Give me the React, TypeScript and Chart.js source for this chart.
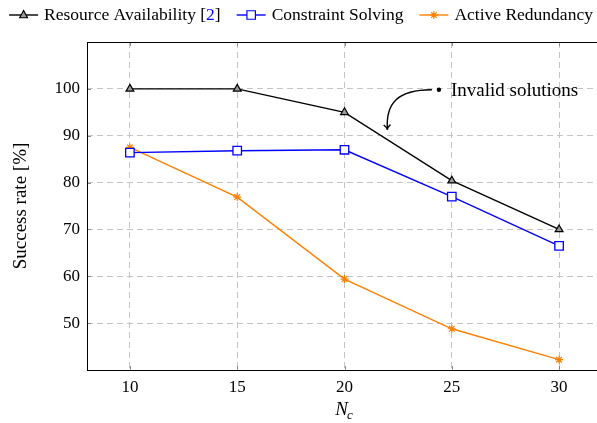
import React, { useEffect, useRef } from "react";
import { Chart, registerables } from "chart.js";

Chart.register(...registerables);

// ---- Data ----
const nc = [10, 15, 20, 25, 30];
const resourceAvailability = [100, 100, 95, 80.4, 70];
const constraintSolving = [86.4, 86.8, 87.0, 77.0, 66.5];
const activeRedundancy = [87.5, 76.9, 59.4, 48.8, 42.2];
const xTickValues = [10, 15, 20, 25, 30];
const yTickValues = [50, 60, 70, 80, 90, 100];
const seriesNames = ["Resource Availability", "Constraint Solving", "Active Redundancy"];
const citeRef = "2";
const annotationLabel = "Invalid solutions";
const annotationDot = [24.4, 99.8];
const annotationArrowTip = [22.0, 91.3];

const FONT = '"Liberation Serif", "DejaVu Serif", serif';
const BLACK = "#000000";
const BLUE = "#0000ff";
const ORANGE = "#ff8000";

const toXY = (ys: number[]) => nc.map((x, i) => ({ x, y: ys[i] }));

function drawMarker(ctx: CanvasRenderingContext2D, style: string, x: number, y: number, r: number, stroke: string, fill: string) {
  ctx.save();
  ctx.strokeStyle = stroke;
  ctx.fillStyle = fill;
  ctx.lineWidth = 1.2;
  ctx.beginPath();
  if (style === "triangle") {
    ctx.moveTo(x, y - r);
    ctx.lineTo(x + r * 0.866, y + r * 0.5 + 0.5);
    ctx.lineTo(x - r * 0.866, y + r * 0.5 + 0.5);
    ctx.closePath();
    ctx.fill();
    ctx.stroke();
  } else if (style === "rect") {
    const s = r * Math.SQRT1_2;
    ctx.rect(x - s, y - s, 2 * s, 2 * s);
    ctx.fill();
    ctx.stroke();
  } else {
    for (let k = 0; k < 4; k++) {
      const ang = (k * Math.PI) / 4;
      ctx.moveTo(x + r * Math.cos(ang), y + r * Math.sin(ang));
      ctx.lineTo(x - r * Math.cos(ang), y - r * Math.sin(ang));
    }
    ctx.stroke();
  }
  ctx.restore();
}

const decorPlugin = {
  id: "decor",
  afterDraw(chart: any) {
    const { ctx, chartArea: a, scales } = chart;
    const xs = scales.x;
    const ys = scales.y;
    ctx.save();

    // small inner tick marks
    ctx.strokeStyle = "#8a8a8a";
    ctx.lineWidth = 1;
    ctx.setLineDash([]);
    yTickValues.forEach((v) => {
      const py = Math.round(ys.getPixelForValue(v)) + 0.5;
      ctx.beginPath();
      ctx.moveTo(a.left, py);
      ctx.lineTo(a.left + 4, py);
      ctx.moveTo(a.right, py);
      ctx.lineTo(a.right - 4, py);
      ctx.stroke();
    });
    xTickValues.forEach((v) => {
      const px = Math.round(xs.getPixelForValue(v)) + 0.5;
      ctx.beginPath();
      ctx.moveTo(px, a.bottom);
      ctx.lineTo(px, a.bottom - 4);
      ctx.moveTo(px, a.top);
      ctx.lineTo(px, a.top + 4);
      ctx.stroke();
    });

    // frame
    ctx.strokeStyle = BLACK;
    ctx.lineWidth = 1;
    ctx.strokeRect(Math.round(a.left) + 0.5, Math.round(a.top) + 0.5, Math.round(a.right - a.left), Math.round(a.bottom - a.top));

    // annotation
    const dx = xs.getPixelForValue(annotationDot[0]);
    const dy = ys.getPixelForValue(annotationDot[1]);
    const tx = xs.getPixelForValue(annotationArrowTip[0]);
    const ty = ys.getPixelForValue(annotationArrowTip[1]);
    ctx.fillStyle = BLACK;
    ctx.beginPath();
    ctx.arc(dx, dy, 2.2, 0, Math.PI * 2);
    ctx.fill();
    ctx.font = `19px ${FONT}`;
    ctx.textBaseline = "middle";
    ctx.textAlign = "left";
    ctx.fillText(annotationLabel, dx + 12, dy + 1);
    const sx = dx - 7;
    const sy = dy;
    const c1x = sx - 34, c1y = sy;
    const c2x = tx - 2, c2y = sy + 13;
    ctx.lineWidth = 1.4;
    ctx.beginPath();
    ctx.moveTo(sx, sy);
    ctx.bezierCurveTo(c1x, c1y, c2x, c2y, tx, ty);
    ctx.stroke();
    const ang = Math.atan2(ty - c2y, tx - c2x);
    ctx.beginPath();
    ctx.moveTo(tx - 6 * Math.cos(ang - 0.6), ty - 6 * Math.sin(ang - 0.6));
    ctx.quadraticCurveTo(tx - 2 * Math.cos(ang), ty - 2 * Math.sin(ang), tx, ty);
    ctx.quadraticCurveTo(tx - 2 * Math.cos(ang), ty - 2 * Math.sin(ang), tx - 6 * Math.cos(ang + 0.6), ty - 6 * Math.sin(ang + 0.6));
    ctx.stroke();

    // x axis title N_c
    const cx = (a.left + a.right) / 2;
    ctx.font = `italic 19px ${FONT}`;
    ctx.textBaseline = "alphabetic";
    const wN = ctx.measureText("N").width;
    ctx.font = `italic 13px ${FONT}`;
    const wc = ctx.measureText("c").width;
    const startX = cx - (wN + wc) / 2;
    ctx.font = `italic 19px ${FONT}`;
    ctx.fillText("N", startX, 415);
    ctx.font = `italic 13px ${FONT}`;
    ctx.fillText("c", startX + wN - 1, 419);

    // legend
    const ly = 15;
    ctx.font = `17.5px ${FONT}`;
    ctx.textBaseline = "middle";
    const items = chart.data.datasets.map((ds: any, i: number) => {
      const label = i === 0 ? seriesNames[0] + " [" + citeRef + "]" : seriesNames[i];
      return { ds, label, w: ctx.measureText(label).width };
    });
    const sampleW = 29, gapT = 6, gapI = 16;
    const total = items.reduce((s: number, it: any) => s + sampleW + gapT + it.w, 0) + gapI * (items.length - 1);
    let x = 301 - total / 2;
    items.forEach((it: any, i: number) => {
      const ds = it.ds;
      ctx.strokeStyle = ds.borderColor;
      ctx.lineWidth = 1.4;
      ctx.beginPath();
      ctx.moveTo(x, ly);
      ctx.lineTo(x + sampleW, ly);
      ctx.stroke();
      drawMarker(ctx, ds.pointStyle, x + sampleW / 2, ly, ds.pointRadius, ds.borderColor, ds.pointBackgroundColor);
      x += sampleW + gapT;
      ctx.fillStyle = BLACK;
      if (i === 0) {
        const pre = seriesNames[0] + " [";
        ctx.fillText(pre, x, ly);
        let xx = x + ctx.measureText(pre).width;
        ctx.fillStyle = BLUE;
        ctx.fillText(citeRef, xx, ly);
        xx += ctx.measureText(citeRef).width;
        ctx.fillStyle = BLACK;
        ctx.fillText("]", xx, ly);
      } else {
        ctx.fillText(it.label, x, ly);
      }
      x += it.w + gapI;
    });

    ctx.restore();
  },
};

export default function App() {
  const ref = useRef<HTMLCanvasElement | null>(null);
  useEffect(() => {
    if (!ref.current) return;
    const chart = new Chart(ref.current, {
      type: "line",
      data: {
        datasets: [
          {
            label: seriesNames[0],
            data: toXY(resourceAvailability),
            borderColor: BLACK,
            backgroundColor: BLACK,
            pointBackgroundColor: "#9a9a9a",
            pointBorderColor: BLACK,
            pointStyle: "triangle",
            pointRadius: 4.5,
            pointBorderWidth: 1.2,
            borderWidth: 1.4,
          } as any,
          {
            label: seriesNames[1],
            data: toXY(constraintSolving),
            borderColor: BLUE,
            backgroundColor: BLUE,
            pointBackgroundColor: "#ffffff",
            pointBorderColor: BLUE,
            pointStyle: "rect",
            pointRadius: 6,
            pointBorderWidth: 1.3,
            borderWidth: 1.4,
          } as any,
          {
            label: seriesNames[2],
            data: toXY(activeRedundancy),
            borderColor: ORANGE,
            backgroundColor: ORANGE,
            pointBackgroundColor: ORANGE,
            pointBorderColor: ORANGE,
            pointStyle: "star",
            pointRadius: 4,
            pointBorderWidth: 1.2,
            borderWidth: 1.4,
          } as any,
        ],
      },
      options: {
        animation: false,
        responsive: false,
        layout: { padding: { top: 42, left: 0, right: 8, bottom: 0 } },
        plugins: { legend: { display: false }, tooltip: { enabled: false } },
        scales: {
          x: {
            type: "linear",
            min: 8,
            max: 32,
            afterBuildTicks: (s: any) => {
              s.ticks = xTickValues.map((v) => ({ value: v }));
            },
            afterFit: (s: any) => {
              s.height = 53;
            },
            grid: { color: "#c4c4c4", lineWidth: 1, drawTicks: false },
            border: { display: false, dash: [6, 4] },
            ticks: { color: BLACK, padding: 7, font: { family: FONT, size: 17 } },
          },
          y: {
            min: 40,
            max: 110,
            afterBuildTicks: (s: any) => {
              s.ticks = yTickValues.map((v) => ({ value: v }));
            },
            afterFit: (s: any) => {
              s.width = 87;
            },
            grid: { color: "#c4c4c4", lineWidth: 1, drawTicks: false },
            border: { display: false, dash: [6, 4] },
            ticks: { color: BLACK, padding: 7, font: { family: FONT, size: 17 } },
            title: {
              display: true,
              text: "Success rate [%]",
              color: BLACK,
              font: { family: FONT, size: 19 },
              padding: { top: 10, bottom: 0 },
            },
          },
        },
      } as any,
      plugins: [decorPlugin],
    });
    return () => chart.destroy();
  }, []);
  return (
    <div style={{ position: "fixed", left: 0, top: 0, width: 597, height: 423, overflow: "hidden", background: "#fff" }}>
      <canvas ref={ref} width={610} height={423} style={{ display: "block" }} />
    </div>
  );
}
